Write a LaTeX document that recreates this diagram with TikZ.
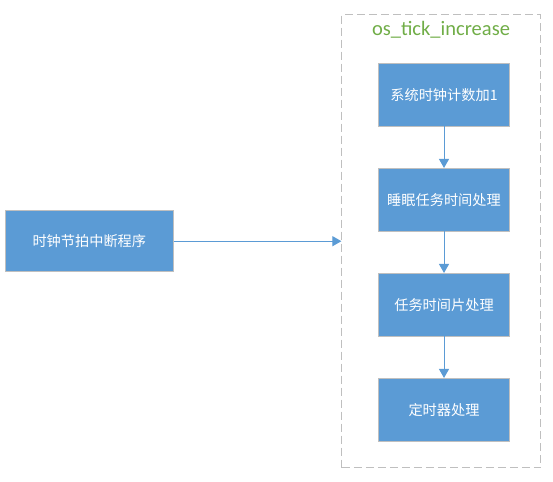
\documentclass[tikz,border=0pt]{standalone}
\usepackage{fontspec}
\setmainfont{Carlito}
\newfontfamily\cjk{Noto Sans CJK SC}
\usetikzlibrary{arrows.meta}
\definecolor{boxblue}{HTML}{5B9BD5}
\definecolor{boxedge}{HTML}{BFBFBF}
\definecolor{titlegreen}{HTML}{70AD47}
\begin{document}
\begin{tikzpicture}[x=1pt,y=-1pt,
  procbox/.style={draw=boxedge, line width=0.8pt, fill=boxblue, text=white,
    font=\cjk\fontsize{14.2}{17}\selectfont, inner sep=0pt},
  flow/.style={draw=boxblue, line width=1pt, -{Triangle[length=9pt,width=10pt]}}
]
\useasboundingbox (0,0) rectangle (553,481);
% container
\node[draw=boxedge, dash pattern=on 8pt off 4pt, line width=0.8pt, minimum width=199pt, minimum height=453pt, inner sep=0pt] (cont) at (441.3,241.2) {};
\node[text=titlegreen, font=\fontsize{20.5}{22}\selectfont, inner sep=0pt] (title) at (441,30) {os\_tick\_increase};
% boxes
\node[procbox, minimum width=130.6pt, minimum height=62.7pt] (b1) at (444,94.7) {系统时钟计数加1};
\node[procbox, minimum width=130.6pt, minimum height=62.7pt] (b2) at (444,199.7) {睡眠任务时间处理};
\node[procbox, minimum width=130.6pt, minimum height=62.7pt] (b3) at (444,304.7) {任务时间片处理};
\node[procbox, minimum width=130.6pt, minimum height=62.7pt] (b4) at (444,409.7) {定时器处理};
\node[procbox, minimum width=168pt, minimum height=61pt] (isr) at (89.3,241.2) {时钟节拍中断程序};
% arrows
\draw[flow] (b1.south) -- (b2.north);
\draw[flow] (b2.south) -- (b3.north);
\draw[flow] (b3.south) -- (b4.north);
\draw[flow] (isr.east) -- (cont.west |- isr.east);
\end{tikzpicture}
\end{document}
